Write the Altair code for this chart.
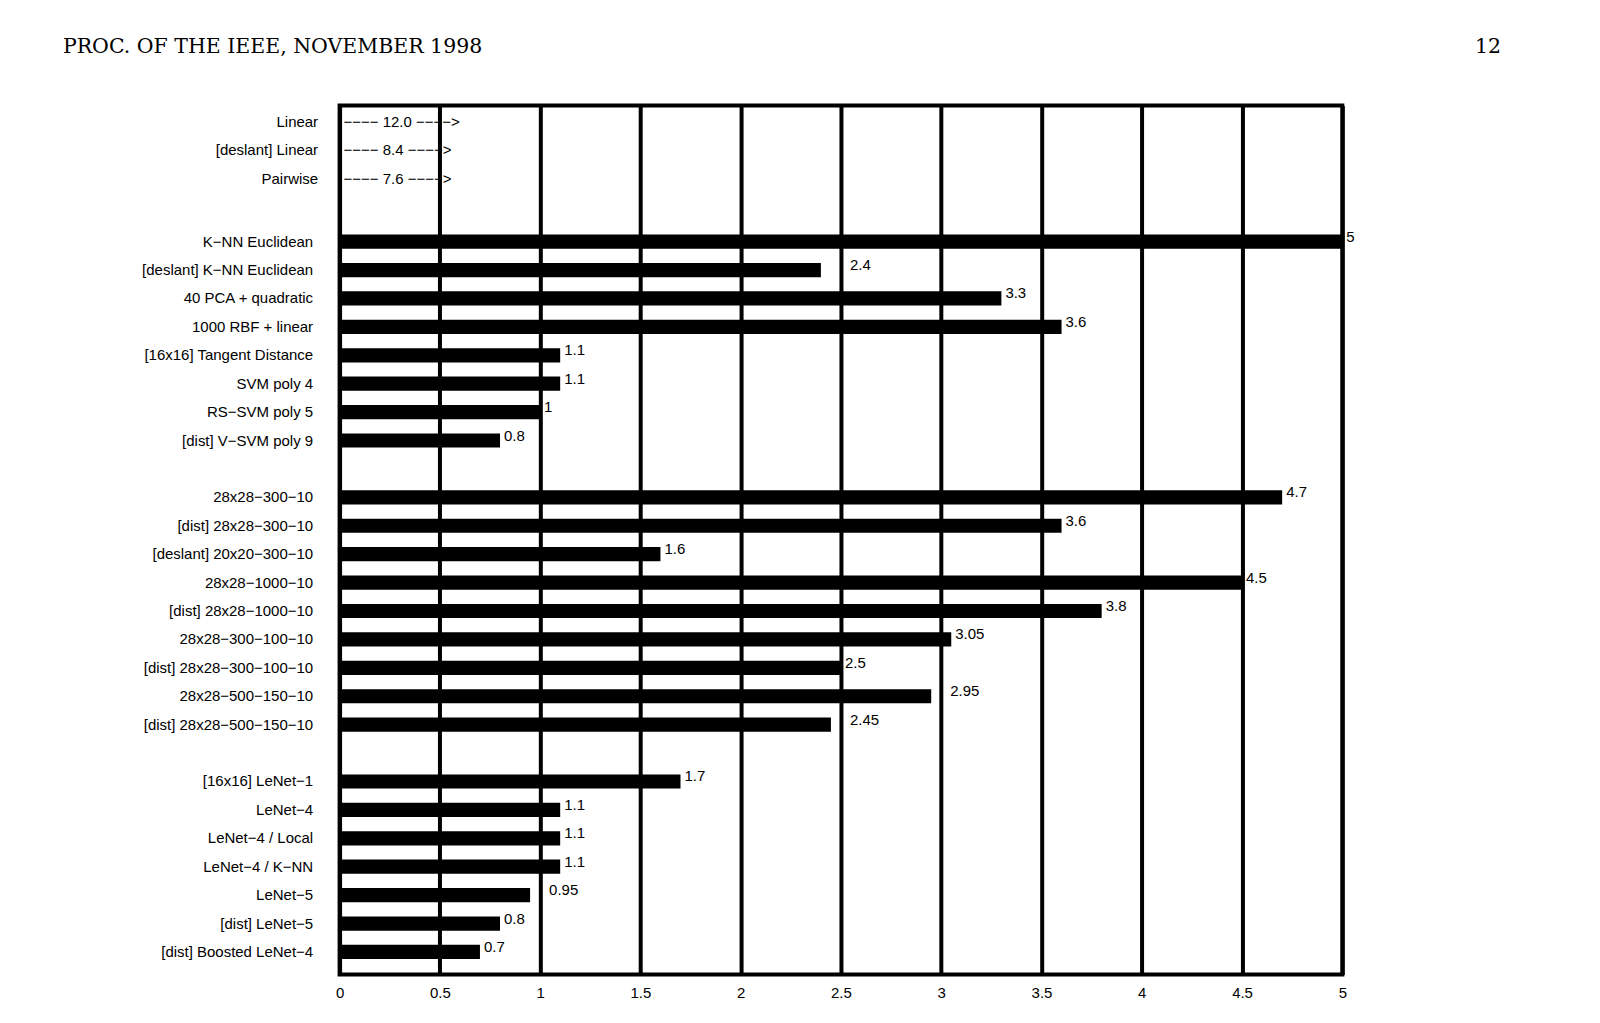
import json
import math
import altair as alt
import pandas as pd

# ---- data ----
header_left = ["PROC. OF THE IEEE, NOVEMBER 1998"]
header_right = ["12"]

off_scale_names = ["Linear", "[deslant] Linear", "Pairwise"]
off_scale_values = [12.0, 8.4, 7.6]

group1_names = ["K−NN Euclidean", "[deslant] K−NN Euclidean", "40 PCA + quadratic",
                "1000 RBF + linear", "[16x16] Tangent Distance", "SVM poly 4",
                "RS−SVM poly 5", "[dist] V−SVM poly 9"]
group1_values = [5, 2.4, 3.3, 3.6, 1.1, 1.1, 1, 0.8]

group2_names = ["28x28−300−10", "[dist] 28x28−300−10", "[deslant] 20x20−300−10",
                "28x28−1000−10", "[dist] 28x28−1000−10", "28x28−300−100−10",
                "[dist] 28x28−300−100−10", "28x28−500−150−10", "[dist] 28x28−500−150−10"]
group2_values = [4.7, 3.6, 1.6, 4.5, 3.8, 3.05, 2.5, 2.95, 2.45]

group3_names = ["[16x16] LeNet−1", "LeNet−4", "LeNet−4 / Local", "LeNet−4 / K−NN",
                "LeNet−5", "[dist] LeNet−5", "[dist] Boosted LeNet−4"]
group3_values = [1.7, 1.1, 1.1, 1.1, 0.95, 0.8, 0.7]

x_ticks = [0, 0.5, 1, 1.5, 2, 2.5, 3, 3.5, 4, 4.5, 5]

# ---- tables ----
domain = (off_scale_names + ["gap1"] + group1_names + ["gap2"] + group2_names
          + ["gap3"] + group3_names)

names = group1_names + group2_names + group3_names
values = group1_values + group2_values + group3_values


def anchor(v):
    nxt = math.ceil(v * 2 - 1e-9) / 2
    d = nxt - v
    return (nxt, True) if 1e-9 < d <= 0.1 + 1e-9 else (v, False)


bars = pd.DataFrame({
    "label": names,
    "value": values,
    "pos": [anchor(v)[0] for v in values],
    "shifted": [anchor(v)[1] for v in values],
})

off = pd.DataFrame({
    "label": off_scale_names,
    "txt": [f"−−−− {v:.1f} −−−−>" for v in off_scale_values],
})

FONT = "Liberation Sans"
FS = 15

cond_test = "indexof(%s, datum.value) >= 0" % json.dumps(off_scale_names)

yscale = alt.Scale(domain=domain, paddingInner=0.5, paddingOuter=0.54)
yaxis = alt.Axis(
    title=None, domain=False, ticks=False, tickSize=0,
    labelFont=FONT, labelFontSize=FS, labelColor="black", labelLimit=400,
    labelPadding={"condition": {"test": cond_test, "value": 22}, "value": 27},
    labelOffset={"condition": {"test": cond_test, "value": -6}, "value": 0},
    labelExpr="indexof(datum.label, 'gap') == 0 ? '' : datum.label",
)
xscale = alt.Scale(domain=[0, 5], nice=False, zero=True)
xaxis = alt.Axis(
    title=None, values=x_ticks, format="~g", domain=False, ticks=False, tickSize=0,
    labelPadding=11, labelFlush=False, labelFont=FONT, labelFontSize=FS,
    labelColor="black", grid=True, gridColor="black", gridWidth=4, gridOpacity=1,
)

base = alt.Chart(bars)

bar_layer = base.mark_bar(color="black").encode(
    y=alt.Y("label:N", scale=yscale, axis=yaxis, sort=domain),
    x=alt.X("value:Q", scale=xscale, axis=xaxis),
)

text_plain = base.transform_filter("!datum.shifted").mark_text(
    align="left", baseline="middle", dx=4, dy=-5, font=FONT, fontSize=FS, color="black"
).encode(
    y=alt.Y("label:N", sort=domain),
    x=alt.X("pos:Q"),
    text=alt.Text("value:Q", format="~g"),
)

text_shift = base.transform_filter("datum.shifted").mark_text(
    align="left", baseline="middle", dx=9, dy=-5, font=FONT, fontSize=FS, color="black"
).encode(
    y=alt.Y("label:N", sort=domain),
    x=alt.X("pos:Q"),
    text=alt.Text("value:Q", format="~g"),
)

off_layer = alt.Chart(off).mark_text(
    align="left", baseline="middle", dx=4, dy=-6, font=FONT, fontSize=FS, color="black"
).encode(
    y=alt.Y("label:N", sort=domain),
    x=alt.datum(0),
    text="txt:N",
)

head_l = alt.Chart(pd.DataFrame({"h": header_left})).mark_text(
    align="left", baseline="alphabetic", font="DejaVu Serif", fontSize=20.5, color="black"
).encode(x=alt.value(-277), y=alt.value(-53), text="h:N")

head_r = alt.Chart(pd.DataFrame({"h": header_right})).mark_text(
    align="right", baseline="alphabetic", font="DejaVu Serif", fontSize=20.5, color="black"
).encode(x=alt.value(1163), y=alt.value(-53), text="h:N")

chart = alt.layer(bar_layer, text_plain, text_shift, off_layer, head_l, head_r).properties(
    width=1004, height=870,
    autosize=alt.AutoSizeParams(type="none"),
    padding={"left": 332, "top": 97, "right": 250, "bottom": 40},
).configure(background="white").configure_view(stroke="black", strokeWidth=4)

chart.save("out.html", embed_options={"renderer": "svg", "actions": False})
